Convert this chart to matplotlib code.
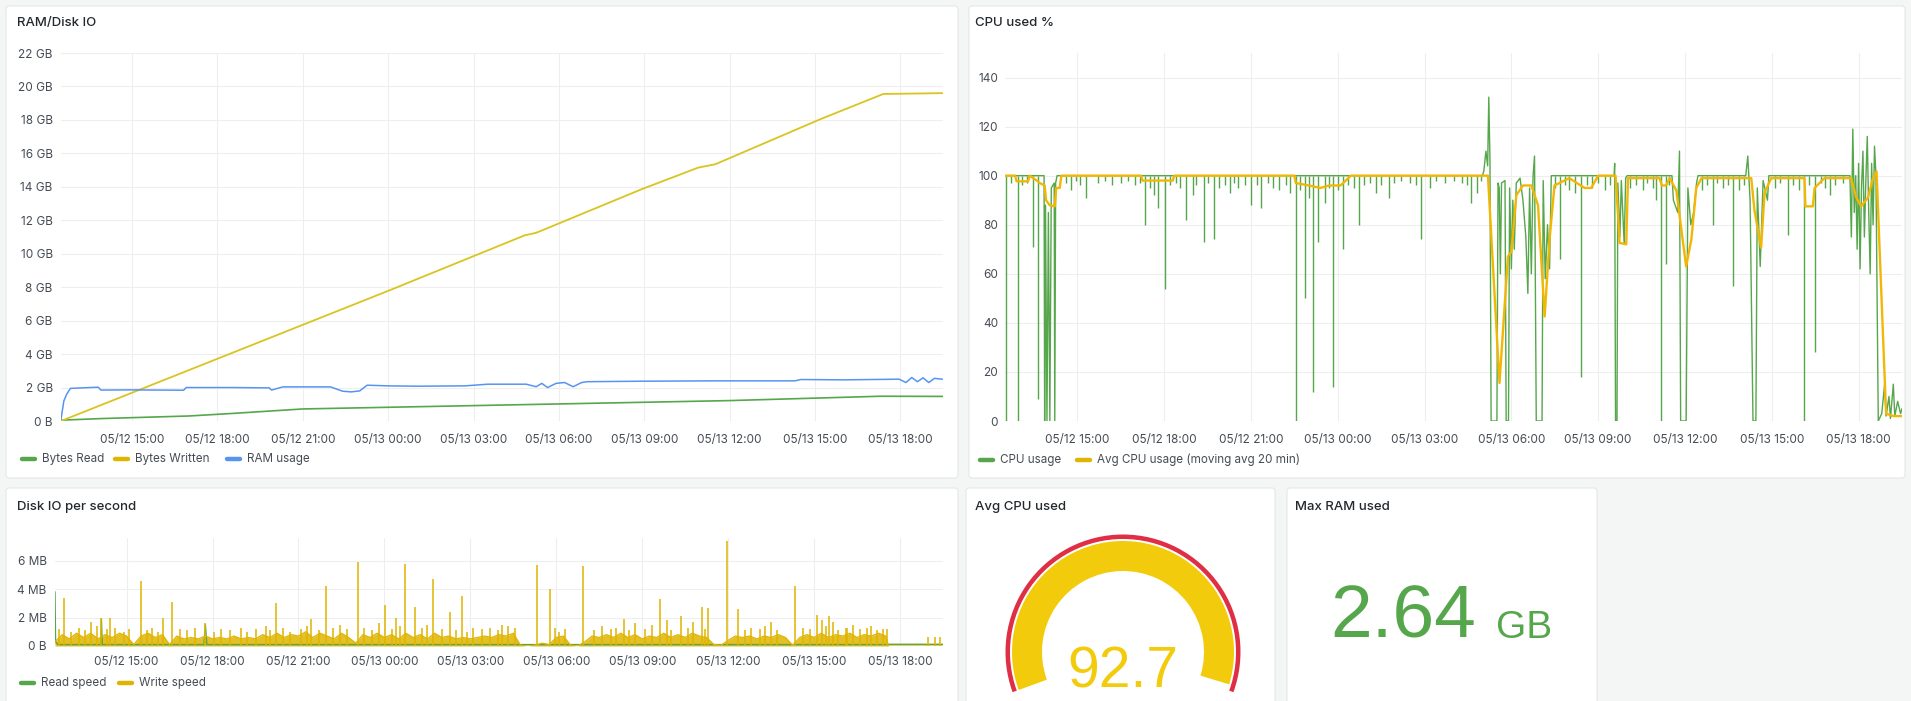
import numpy as np
import matplotlib
matplotlib.use("Agg")
import matplotlib.pyplot as plt
from matplotlib.patches import FancyBboxPatch, Wedge
from matplotlib.lines import Line2D

plt.rcParams['font.family'] = ['Inter', 'DejaVu Sans']

# ---------------- data (time = hours since 05/12 12:00) ----------------
x_ticks = [3, 6, 9, 12, 15, 18, 21, 24, 27, 30]
x_tick_labels = ['05/12 15:00', '05/12 18:00', '05/12 21:00', '05/13 00:00', '05/13 03:00',
                 '05/13 06:00', '05/13 09:00', '05/13 12:00', '05/13 15:00', '05/13 18:00']

# RAM / Disk IO (GB)
written_t = [0.5, 3.5, 9.5, 12.0, 16.8, 17.2, 20.9, 22.9, 23.5, 27.2, 29.4, 31.5]
written_v = [0.0, 2.03, 6.09, 7.78, 11.1, 11.25, 13.85, 15.15, 15.35, 18.05, 19.55, 19.6]
read_t = [0.5, 2.0, 5.0, 6.5, 9.0, 12.0, 18.0, 24.0, 29.3, 31.5]
read_v = [0.05, 0.15, 0.3, 0.45, 0.72, 0.82, 1.02, 1.22, 1.48, 1.47]
ram_t = [0.5, 0.6, 0.7, 0.83, 1.5, 1.81, 1.9, 3.0, 4.81, 4.9, 6.5, 7.82, 7.9, 8.3, 9.97, 10.4, 10.7,
         11.0, 11.26, 12.0, 13.0, 14.7, 15.5, 16.85, 17.2, 17.4, 17.6, 17.9, 18.2, 18.5, 18.8, 19.0,
         21.0, 23.5, 26.3, 26.5, 28.0, 29.96, 30.2, 30.4, 30.6, 30.8, 31.0, 31.2, 31.47]
ram_v = [0.1, 1.2, 1.6, 1.95, 2.0, 2.02, 1.85, 1.86, 1.84, 2.0, 2.0, 1.98, 1.85, 2.04, 2.04, 1.78, 1.74,
         1.8, 2.14, 2.1, 2.08, 2.1, 2.2, 2.2, 2.05, 2.25, 2.0, 2.25, 2.3, 2.05, 2.3, 2.35,
         2.38, 2.4, 2.4, 2.48, 2.46, 2.5, 2.3, 2.6, 2.35, 2.58, 2.3, 2.55, 2.5]
ram_ticks = [0, 2, 4, 6, 8, 10, 12, 14, 16, 18, 20, 22]
ram_tick_labels = ['0 B', '2 GB', '4 GB', '6 GB', '8 GB', '10 GB', '12 GB', '14 GB', '16 GB',
                   '18 GB', '20 GB', '22 GB']

# CPU used %: sustained level, busy segments, and short dips
cpu_level = 100
cpu_t = [0.5, 1.85, 1.87, 1.9, 1.95, 2.0, 2.05, 2.1, 2.2, 2.22, 2.25, 2.3,
         17.0, 17.05, 17.12, 17.18, 17.22, 17.26, 17.3, 17.5, 17.54, 17.58, 17.62, 17.66, 17.78,
         17.82, 17.9, 17.94, 18.0, 18.05, 18.1, 18.17, 18.3, 18.4, 18.5, 18.57, 18.63, 18.69,
         18.75, 18.8, 18.86, 19.06, 19.1, 19.17, 19.25, 19.32, 19.38,
         21.55, 21.57, 21.6, 21.65, 21.68, 21.75, 21.8, 21.9, 21.95, 22.0,
         23.55, 23.6, 23.75, 23.81, 23.85, 24.04, 24.1, 24.2, 24.3, 24.4, 24.45,
         26.1, 26.17, 26.25, 26.35, 26.45, 26.5, 26.6, 26.7, 26.85, 26.9,
         29.7, 29.75, 29.8, 29.85, 29.9, 29.95, 30.0, 30.05, 30.1, 30.15, 30.2, 30.25, 30.3,
         30.35, 30.4, 30.45, 30.5, 30.55, 30.6, 30.68, 30.8, 30.9, 30.95, 31.05, 31.1, 31.2,
         31.25, 31.35, 31.45, 31.5]
cpu_v = [100, 100, 0, 88, 0, 85, 0, 95, 97, 0, 97, 100,
         100, 102, 110, 104, 132, 106, 0, 0, 97, 95, 60, 97, 98,
         0, 0, 95, 62, 90, 70, 97, 99, 90, 75, 52, 95, 60,
         100, 108, 0, 0, 98, 58, 80, 62, 100,
         100, 105, 0, 0, 97, 75, 98, 72, 99, 100,
         100, 90, 85, 110, 0, 0, 95, 80, 85, 97, 100,
         100, 108, 90, 0, 0, 95, 63, 98, 90, 100,
         100, 75, 119, 85, 100, 70, 105, 62, 95, 110, 75, 98, 116,
         85, 60, 105, 80, 112, 100, 0, 3, 15, 2, 10, 1, 15,
         2, 8, 3, 5]
dip_t = [0.55, 0.95, 1.47, 1.64, 2.79, 3.31, 5.33, 5.79, 6.02, 6.77, 6.99, 7.38, 7.72, 8.26, 8.55,
         9.36, 9.98, 10.57, 10.86, 11.14, 11.32, 11.55, 11.83, 12.18, 12.75, 13.33, 13.78, 14.89,
         15.18, 16.61, 16.8, 19.67, 20.42, 21.22, 22.55, 23.16, 23.35, 24.97, 25.66, 27.56, 28.13,
         28.48, 29.0,
         0.7, 1.1, 1.25, 2.6, 2.95, 3.1, 3.7, 3.95, 4.2, 4.5, 4.75, 5.0, 5.15, 5.5, 5.65, 6.2,
         6.4, 6.55, 7.1, 7.5, 7.9, 8.1, 8.4, 8.8, 9.0, 9.2, 9.6, 9.75, 10.2, 10.35, 10.7, 11.0,
         11.7, 12.0, 12.35, 12.55, 12.9, 13.1, 13.5, 13.95, 14.2, 14.5, 14.7, 15.4, 15.7, 16.0,
         16.3, 16.45, 16.95, 19.5, 19.85, 20.0, 20.2, 20.6, 20.8, 21.0, 21.4, 22.1, 22.3, 22.7,
         22.9, 23.0, 23.45, 24.6, 24.75, 25.1, 25.3, 25.5, 25.85, 26.05, 27.1, 27.3, 27.75,
         27.95, 28.3, 28.7, 28.85, 29.2, 29.45]
dip_v = [0, 0, 71, 9, 94, 91, 80, 87, 54, 82, 92, 73, 74, 93, 95,
         87, 94, 0, 50, 12, 73, 89, 14, 70, 80, 93, 91, 74,
         95, 89, 93, 66, 18, 94, 94, 0, 64, 80, 55, 76, 0,
         28, 92,
         97, 96, 97, 97, 98, 96, 97, 98, 96, 97, 98, 96, 97, 95, 92, 96,
         97, 95, 96, 97, 95, 96, 97, 96, 88, 96, 97, 95, 96, 93, 94, 91,
         95, 94, 96, 95, 96, 97, 96, 97, 98, 97, 96, 98, 97, 98,
         97, 96, 98, 95, 96, 94, 93, 96, 95, 97, 96, 95, 96, 97,
         95, 90, 96, 94, 96, 97, 95, 96, 94, 96, 95, 97, 96,
         94, 96, 97, 95, 96, 97]
avg_t = [0.5, 0.85, 0.9, 1.3, 1.35, 1.6, 1.7, 1.87, 1.92, 2.04, 2.22, 2.27, 2.39, 2.45, 5.2, 5.25,
         6.3, 6.35, 10.5, 10.55, 11.0, 11.4, 11.7, 12.1, 12.45, 17.19, 17.59, 17.88, 18.0, 18.17,
         18.4, 18.69, 18.92, 19.15, 19.32, 19.49, 20.0, 20.53, 20.76, 21.0, 21.6, 21.68, 21.74,
         21.97, 22.03, 23.12, 23.2, 23.35, 23.47, 23.7, 24.04, 24.22, 24.39, 24.57, 26.29, 26.4,
         26.63, 26.75, 26.98, 28.13, 28.16, 28.42, 28.48, 28.82, 29.74, 29.92, 30.09, 30.32, 30.5,
         30.62, 30.95, 31.2, 31.53]
avg_v = [100, 100, 97.7, 97.7, 100, 98, 97, 96, 90, 88, 87.5, 95, 95, 100, 100, 98,
         98, 100, 100, 97, 96, 95, 96, 96, 100, 100, 15.5, 67, 69, 92,
         96, 96, 88, 42.6, 74, 96, 99, 95, 95, 100, 100, 85, 72.6,
         72, 99, 99, 96, 96, 99, 94, 63, 74, 95, 99, 99, 86,
         70.6, 93, 99, 99, 87.5, 87.5, 95, 99, 99, 91, 87.5, 91, 99,
         101.8, 3, 2, 2]
cpu_ticks = [0, 20, 40, 60, 80, 100, 120, 140]

# Disk IO per second (MB)
wbase_t = [0.5, 0.75, 1.0, 1.25, 1.5, 1.75, 2.0, 2.25, 2.5, 2.75, 3.0, 3.25, 3.5, 3.75, 4.0, 4.25,
           4.5, 4.75, 5.0, 5.25, 5.5, 5.75, 6.0, 6.25, 6.5, 6.75, 7.0, 7.25, 7.5, 7.75, 8.0, 8.25,
           8.5, 8.75, 9.0, 9.25, 9.5, 9.75, 10.0, 10.25, 10.5, 10.75, 11.0, 11.25, 11.5, 11.75,
           12.0, 12.25, 12.5, 12.75, 13.0, 13.25, 13.5, 13.75, 14.0, 14.25, 14.5, 14.75, 15.0,
           15.25, 15.5, 15.75, 16.0, 16.25, 16.5, 16.75, 17.0, 17.25, 17.5, 17.75, 18.0, 18.25,
           18.5, 18.75, 19.0, 19.25, 19.5, 19.75, 20.0, 20.25, 20.5, 20.75, 21.0, 21.25, 21.5,
           21.75, 22.0, 22.25, 22.5, 22.75, 23.0, 23.25, 23.5, 23.75, 24.0, 24.25, 24.5, 24.75,
           25.0, 25.25, 25.5, 25.75, 26.0, 26.25, 26.5, 26.75, 27.0, 27.25, 27.5, 27.75, 28.0,
           28.25, 28.5, 28.75, 29.0, 29.25, 29.5, 29.6, 30.0, 30.5, 31.0, 31.5]
wbase_v = [0.3, 0.8, 0.5, 0.9, 0.6, 0.9, 0.5, 0.8, 0.6, 0.9, 0.7, 0.1, 0.7, 0.9, 0.6, 0.8,
           0.1, 0.7, 0.5, 0.6, 0.5, 0.7, 0.5, 0.6, 0.5, 0.7, 0.5, 0.6, 0.5, 0.8, 0.6, 0.9,
           0.6, 0.8, 0.7, 1.0, 0.6, 0.9, 0.7, 0.5, 0.9, 0.6, 0.2, 0.8, 0.6, 0.9,
           0.6, 0.8, 0.5, 0.9, 0.6, 0.8, 0.5, 0.9, 0.6, 0.7, 0.5, 0.6, 0.5,
           0.6, 0.7, 0.6, 0.8, 0.7, 0.9, 0.05, 0.0, 0.05, 0.2, 0.1, 0.6, 0.7,
           0.05, 0.0, 0.3, 0.7, 0.6, 0.8, 0.6, 0.9, 0.6, 0.8, 0.5, 0.7, 0.6,
           0.9, 0.6, 0.8, 0.6, 0.9, 0.7, 0.6, 0.1, 0.05, 0.4, 0.7, 0.6, 0.7,
           0.5, 0.7, 0.6, 0.8, 0.6, 0.05, 0.6, 0.8, 0.6, 0.9, 0.6, 0.8, 0.7,
           0.9, 0.6, 0.8, 0.7, 0.9, 0.7, 0.0, 0.0, 0.0, 0.0, 0.0]
wspike_t = [0.83, 1.77, 2.12, 2.43, 3.51, 4.27, 4.6, 5.75, 7.0, 7.88, 8.23, 9.45, 9.95, 11.08,
            12.01, 12.42, 12.71, 13.06, 13.7, 14.28, 14.72, 15.1, 16.12, 16.55, 17.34, 17.77,
            17.95, 18.92, 20.36, 20.74, 21.62, 21.85, 22.37, 22.78, 23.1, 23.3, 23.95, 24.35,
            25.49, 26.33, 27.09, 27.26, 27.53, 27.67, 28.14, 28.35, 28.84, 29.53, 30.99, 31.22, 31.4,
            0.65, 1.05, 1.35, 1.55, 1.95, 2.3, 2.6, 2.9, 3.1, 3.7, 3.9, 4.1, 4.85, 5.1, 5.4, 6.05,
            6.3, 6.6, 7.2, 7.5, 8.0, 8.45, 8.7, 9.1, 9.3, 9.7, 10.2, 10.45, 10.7, 11.3, 11.55, 11.8,
            12.25, 12.55, 13.3, 13.5, 14.0, 14.5, 14.9, 15.4, 15.7, 15.95, 16.3, 18.1, 18.3, 19.3,
            19.6, 19.9, 20.1, 20.55, 21.1, 21.35, 22.0, 22.6, 23.2, 24.6, 24.8, 25.1, 25.3, 25.7,
            26.6, 26.85, 27.4, 27.85, 28.1, 28.6, 29.0, 29.2, 29.4]
wspike_v = [3.4, 1.7, 1.95, 2.0, 4.6, 1.95, 3.1, 1.6, 1.25, 1.4, 3.0, 1.9, 4.2, 5.9,
            2.9, 2.0, 5.8, 2.75, 4.7, 2.4, 3.55, 1.25, 1.5, 1.3, 5.7, 4.0,
            1.3, 5.6, 1.9, 1.6, 3.3, 1.8, 2.1, 1.7, 2.75, 2.7, 7.4, 2.6,
            1.7, 4.25, 2.15, 1.8, 2.1, 1.7, 1.3, 1.5, 1.3, 1.2, 0.6, 0.6, 0.6,
            1.2, 1.0, 1.3, 1.1, 1.4, 1.2, 1.3, 1.0, 1.2, 1.1, 1.3, 1.0, 1.2, 1.1, 1.3, 1.0,
            1.2, 1.1, 1.0, 1.2, 1.1, 1.3, 1.0, 1.2, 1.4, 1.1, 1.3, 1.5, 1.2, 1.3, 1.1, 1.6,
            1.2, 1.4, 1.3, 1.5, 1.2, 1.1, 1.0, 1.2, 1.3, 1.1, 1.4, 1.0, 1.2, 1.1,
            1.4, 1.2, 1.3, 1.1, 1.2, 1.5, 1.1, 1.3, 1.2, 1.1, 1.3, 1.2, 1.4, 1.1,
            1.3, 1.2, 1.4, 1.1, 1.3, 1.2, 1.4, 1.1, 1.2]
rspeed_t = [0.5, 0.52, 0.6, 2.1, 2.12, 2.15, 5.7, 5.75, 5.8, 29.55, 29.6, 31.5]
rspeed_v = [3.8, 0.3, 0.1, 0.1, 1.9, 0.1, 0.1, 1.5, 0.1, 0.1, 0.12, 0.12]
io_ticks = [0, 2, 4, 6]
io_tick_labels = ['0 B', '2 MB', '4 MB', '6 MB']

# stat values
avg_cpu_value = 92.7
gauge_min, gauge_max = 0, 94
max_ram_value = '2.64'
max_ram_unit = 'GB'

# ---------------- style ----------------
W, H = 1911, 701
BG = '#f4f5f5'
GREEN = '#56a64b'
YELLOW = '#e0b400'
YELLOW_LINE = '#d9c420'
BLUE = '#5794f2'
RED = '#e02f44'
TXT = '#24292e'
TXT2 = '#464c54'
GRID = '#eeeeee'
TICK_FS = 8.5

fig = plt.figure(figsize=(W / 100, H / 100), dpi=100)
fig.patch.set_facecolor(BG)

bg = fig.add_axes([0, 0, 1, 1])
bg.set_xlim(0, W)
bg.set_ylim(H, 0)
bg.axis('off')
bg.set_zorder(0)


def panel(x0, y0, x1, y1):
    bg.add_patch(FancyBboxPatch((x0, y0), x1 - x0, y1 - y0,
                                boxstyle='round,pad=0,rounding_size=3',
                                facecolor='white', edgecolor='#e4e6e8', lw=0.8))


panel(6, 6, 958, 478)
panel(969, 6, 1905, 478)
panel(6, 488, 958, 720)
panel(966, 488, 1275, 720)
panel(1287, 488, 1597, 720)

title_kw = dict(fontsize=9.5, color=TXT, va='center', ha='left', fontweight='medium')
bg.text(17, 23, 'RAM/Disk IO', **title_kw)
bg.text(975, 23, 'CPU used %', **title_kw)
bg.text(17, 507, 'Disk IO per second', **title_kw)
bg.text(975, 507, 'Avg CPU used', **title_kw)
bg.text(1295, 507, 'Max RAM used', **title_kw)


def legend(items, y):
    for x, color, label in items:
        bg.add_line(Line2D([x, x + 13], [y, y], color=color, lw=3.2, solid_capstyle='round'))
        bg.text(x + 20, y, label, fontsize=8.4, color=TXT2, va='center', ha='left')


legend([(22, GREEN, 'Bytes Read'), (115, YELLOW, 'Bytes Written'), (227, BLUE, 'RAM usage')], 459)
legend([(980, GREEN, 'CPU usage'), (1077, YELLOW, 'Avg CPU usage (moving avg 20 min)')], 460)
legend([(21, GREEN, 'Read speed'), (119, YELLOW, 'Write speed')], 683)


def add_ax(l, t, r, b):
    ax = fig.add_axes([l / W, 1 - b / H, (r - l) / W, (b - t) / H])
    ax.set_facecolor('none')
    ax.set_zorder(2)
    for s in ax.spines.values():
        s.set_visible(False)
    ax.tick_params(length=0, labelsize=TICK_FS, colors=TXT2)
    ax.set_xlim(0.5, 31.5)
    ax.set_xticks(x_ticks)
    ax.set_xticklabels(x_tick_labels)
    ax.grid(True, color=GRID, lw=0.8)
    ax.set_axisbelow(True)
    return ax


# RAM / Disk IO
ax1 = add_ax(61, 53, 943, 421)
ax1.plot(read_t, read_v, color=GREEN, lw=1.2)
ax1.plot(written_t, written_v, color=YELLOW_LINE, lw=1.3)
ax1.plot(ram_t, ram_v, color=BLUE, lw=1.1)
ax1.set_ylim(0, 22)
ax1.set_yticks(ram_ticks)
ax1.set_yticklabels(ram_tick_labels)
ax1.tick_params(axis='x', pad=9)
ax1.tick_params(axis='y', pad=6)

# CPU used %
ax2 = add_ax(1005, 53, 1902, 421)
ax2.plot(cpu_t, cpu_v, color=GREEN, lw=1.0)
ax2.vlines(dip_t, cpu_level, dip_v, color=GREEN, lw=1.0)
ax2.plot(avg_t, avg_v, color='#f2b705', lw=1.7)
ax2.set_ylim(0, 150)
ax2.set_yticks(cpu_ticks)
ax2.tick_params(axis='x', pad=9)
ax2.tick_params(axis='y', pad=5)

# Disk IO per second
ax3 = add_ax(55, 538, 943, 646)
ax3.plot(rspeed_t, rspeed_v, color=GREEN, lw=1.0)
ax3.fill_between(wbase_t, wbase_v, color=YELLOW, alpha=0.85, lw=0)
ax3.plot(wbase_t, wbase_v, color=YELLOW, lw=0.9)
ax3.vlines(wspike_t, 0, wspike_v, color=YELLOW, lw=1.1)
ax3.set_ylim(0, 7.6)
ax3.set_yticks(io_ticks)
ax3.set_yticklabels(io_tick_labels)
ax3.tick_params(axis='x', pad=7)
ax3.tick_params(axis='y', pad=6)

# Gauge (visual angles 200 deg .. -20 deg; y axis of bg is inverted so angles are negated)
cx, cy = 1123, 652
start, sweep = 200.0, 220.0
bg.add_patch(Wedge((cx, cy), 117.5, -start, -(start - sweep), width=4.5,
                   facecolor=RED, edgecolor='none', zorder=3))
frac = (avg_cpu_value - gauge_min) / (gauge_max - gauge_min)
frac = min(max(frac, 0), 1)
end = start - sweep * frac
bg.add_patch(Wedge((cx, cy), 111, -start, -end, width=30,
                   facecolor='#f2cc0c', edgecolor='none', zorder=3))
bg.text(cx, 688, f'{avg_cpu_value:.1f}', fontsize=41, color='#f2cc0c', ha='center',
        va='baseline', family='Liberation Sans', zorder=4)

# Stat
bg.text(1330, 638, max_ram_value, fontsize=54, color=GREEN, ha='left', va='baseline',
        family='Liberation Sans')
bg.text(1496, 638, max_ram_unit, fontsize=28, color=GREEN, ha='left', va='baseline',
        family='Liberation Sans')

fig.savefig('out.png', dpi=100, facecolor=BG)
